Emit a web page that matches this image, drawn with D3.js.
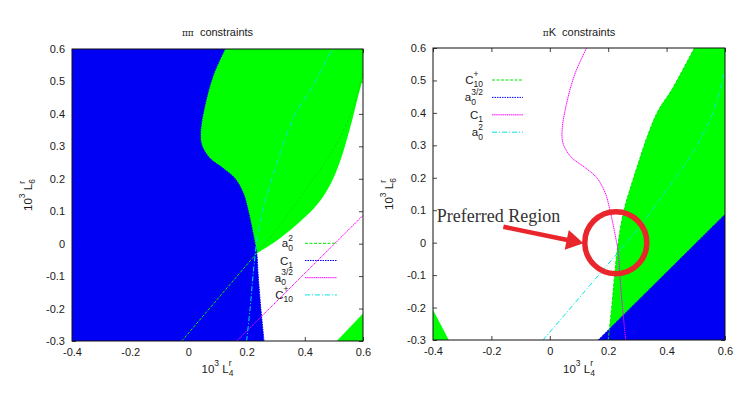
<!DOCTYPE html>
<html>
<head>
<meta charset="utf-8">
<script src="https://cdn.jsdelivr.net/npm/d3@7"></script>
<style>
  body { margin: 0; background: #fff; }
  svg { display: block; font-family: "Liberation Sans", Arial, sans-serif; }
</style>
</head>
<body>
<svg id="chart" width="747" height="398"></svg>
<script>
// =======================
// data (units of 10^3 L_i^r)
// =======================
const xTicks = [-0.4, -0.2, 0, 0.2, 0.4, 0.6];
const yTicks = [-0.3, -0.2, -0.1, 0, 0.1, 0.2, 0.3, 0.4, 0.5, 0.6];

// C1 constraint curve (top -> bottom)
const curveC1 = [[0.126,0.6],[0.086,0.52],[0.057,0.427],[0.042,0.345],[0.046,0.304],[0.074,0.263],
  [0.12,0.232],[0.16,0.201],[0.189,0.155],[0.206,0.1],[0.229,0],[0.235,-0.03],[0.24,-0.1],[0.249,-0.2],[0.26,-0.3]];
// a0^2 curve (bottom -> top)
const curveA02 = [[-0.023,-0.3],[0.234,-0.03],[0.3,0.04],[0.36,0.112],[0.412,0.178],[0.491,0.28],[0.56,0.404],[0.6,0.532]];
// a0^{3/2} line
const curveA032 = [[0.166,-0.3],[0.6,0.087]];
// C10+ curve (bottom -> top)
const curveC10 = [[0.2,-0.3],[0.212,-0.2],[0.222,-0.1],[0.234,0],[0.254,0.1],[0.28,0.18],[0.305,0.25],
  [0.335,0.33],[0.37,0.405],[0.42,0.475],[0.495,0.6]];
// edge of the allowed (green) region in the pi pi plot
const edgeGreenPP = [[0.235,-0.03],[0.315,0.017],[0.384,0.068],[0.441,0.119],[0.487,0.181],[0.521,0.253],
  [0.555,0.355],[0.582,0.45],[0.6,0.51]];
const cornerPP = [[0.51,-0.3],[0.6,-0.215]];
const cornerPK = [[-0.4,-0.207],[-0.346,-0.3]];

const legendPP = ["a02", "C1", "a032", "C10"];
const legendPK = ["C10", "a032", "C1", "a02"];

const curves = { a02: curveA02, C1: curveC1, a032: curveA032, C10: curveC10 };
const labels = {
  a02: [{t:"a", sub:"0", sup:"2"}],
  C1: [{t:"C", sub:"1"}],
  a032: [{t:"a", sub:"0", sup:"3/2"}],
  C10: [{t:"C", sub:"10", sup:"+"}]
};
// gnuplot line types, in legend order
const lineStyles = [
  {color:"#00e600", dash:"3,1.5"},
  {color:"#0000ff", dash:"1.5,1"},
  {color:"#ff00ff", dash:"1.5,0.6"},
  {color:"#00e6e6", dash:"5,2,1,2"}
];

const BLUE = "#0000f4", GREEN = "#00ff00", RED = "#e8262b";

// =======================
// helpers
// =======================
const svg = d3.select("#chart");

function richText(g, parts, x, y, anchor, size) {
  const grp = g.append("g").attr("fill", "#1a1a1a");
  const small = size * 0.74;
  let cx = 0;
  parts.forEach(p => {
    const b = grp.append("text").attr("x", cx).attr("y", 0).attr("font-size", size)
      .style("white-space", "pre").text(p.t);
    cx += b.node().getComputedTextLength();
    let w = 0;
    if (p.sub) {
      const s = grp.append("text").attr("x", cx).attr("y", size * 0.3).attr("font-size", small).text(p.sub);
      w = Math.max(w, s.node().getComputedTextLength());
    }
    if (p.sup) {
      const s = grp.append("text").attr("x", cx).attr("y", -size * 0.58).attr("font-size", small).text(p.sup);
      w = Math.max(w, s.node().getComputedTextLength());
    }
    cx += w;
  });
  const off = anchor === "end" ? -cx : anchor === "middle" ? -cx / 2 : 0;
  grp.attr("transform", `translate(${x + off},${y})`);
  return grp;
}

function drawPanel(opt) {
  const x = d3.scaleLinear([-0.4, 0.6], [opt.left, opt.right]);
  const y = d3.scaleLinear([-0.3, 0.6], [opt.bottom, opt.top]);
  const g = svg.append("g");
  const line = d3.line().x(d => x(d[0])).y(d => y(d[1])).curve(d3.curveCatmullRom);
  const P = (a, b) => `${x(a)},${y(b)}`;

  const clipId = "clip" + opt.id;
  svg.append("clipPath").attr("id", clipId).append("rect")
    .attr("x", opt.left).attr("y", opt.top).attr("width", opt.right - opt.left).attr("height", opt.bottom - opt.top);

  // ticks (all four sides, inward) with labels
  const fmt = d => String(+d.toFixed(1));
  const axes = [
    [d3.axisBottom(x).tickValues(xTicks).tickFormat(fmt), `translate(0,${opt.bottom})`],
    [d3.axisTop(x).tickValues(xTicks).tickFormat(""), `translate(0,${opt.top})`],
    [d3.axisLeft(y).tickValues(yTicks).tickFormat(fmt), `translate(${opt.left},0)`],
    [d3.axisRight(y).tickValues(yTicks).tickFormat(""), `translate(${opt.right},0)`]
  ];
  axes.forEach(([ax, tr]) => {
    const a = g.append("g").attr("transform", tr)
      .call(ax.tickSize(-4).tickPadding(7));
    a.select(".domain").remove();
    a.selectAll("line").attr("stroke", "#444");
    a.selectAll("text").attr("font-size", 11).attr("fill", "#1a1a1a")
      .attr("font-family", "Liberation Sans, Arial, sans-serif");
  });

  // filled regions
  const fills = g.append("g").attr("clip-path", `url(#${clipId})`);
  opt.regions.forEach(r => fills.append("path").attr("d", r.d(line, P)).attr("fill", r.color));

  // constraint curves
  const lines = g.append("g").attr("clip-path", `url(#${clipId})`).attr("fill", "none");
  opt.legend.forEach((k, i) => {
    lines.append("path").attr("d", line(curves[k]))
      .attr("stroke", lineStyles[i].color).attr("stroke-width", 1).attr("stroke-dasharray", lineStyles[i].dash);
  });

  // border
  g.append("rect").attr("x", opt.left).attr("y", opt.top)
    .attr("width", opt.right - opt.left).attr("height", opt.bottom - opt.top)
    .attr("fill", "none").attr("stroke", "#111").attr("stroke-width", 1);

  // legend
  opt.legend.forEach((k, i) => {
    const ly = opt.legY + i * opt.legStep;
    richText(g, labels[k], opt.legText, ly + 4, "end", 11.5);
    g.append("line").attr("x1", opt.legX0).attr("x2", opt.legX1).attr("y1", ly).attr("y2", ly)
      .attr("stroke", lineStyles[i].color).attr("stroke-width", 1).attr("stroke-dasharray", lineStyles[i].dash);
  });

  // titles and axis labels
  const cxm = (opt.left + opt.right) / 2;
  const t = g.append("text").attr("x", cxm).attr("y", 36).attr("text-anchor", "middle")
    .attr("font-size", 11).attr("fill", "#1a1a1a").style("white-space", "pre");
  t.append("tspan").attr("font-size", 9).attr("font-family", "DejaVu Serif, serif").text(opt.title[0]);
  t.append("tspan").text(opt.title[1]);
  richText(g, [{t:"10", sup:"3"}, {t:" L", sub:"4", sup:"r"}], cxm, 373, "middle", 11.5);
  const yl = g.append("g").attr("transform", `translate(${opt.left - 40},${(opt.top + opt.bottom) / 2}) rotate(-90)`);
  richText(yl, [{t:"10", sup:"3"}, {t:" L", sub:"6", sup:"r"}], 0, 0, "middle", 11.5);

  return { x, y, g };
}

// =======================
// pi pi panel
// =======================
drawPanel({
  id: "pp", left: 72, right: 363, top: 49, bottom: 341, title: ["ππ", "  constraints"],
  legend: legendPP, legText: 293, legX0: 305, legX1: 337, legY: 243.3, legStep: 17.2,
  regions: [
    {color: GREEN, d: (line, P) => `M${P(-0.4,0.6)}L${P(-0.4,-0.03)}` + line(edgeGreenPP).replace(/^M/, "L") + `L${P(0.6,0.6)}Z`},
    {color: GREEN, d: (line, P) => `M${P(cornerPP[0][0],cornerPP[0][1])}L${P(cornerPP[1][0],cornerPP[1][1])}L${P(0.6,-0.3)}Z`},
    {color: BLUE, d: (line, P) => line(curveC1) + `L${P(-0.4,-0.3)}L${P(-0.4,0.6)}Z`}
  ]
});

// =======================
// pi K panel
// =======================
const pk = drawPanel({
  id: "pk", left: 433, right: 725, top: 48, bottom: 340, title: ["π", "K  constraints"],
  legend: legendPK, legText: 483, legX0: 492, legX1: 523, legY: 80, legStep: 17.4,
  regions: [
    {color: GREEN, d: (line, P) => line(curveC10) + `L${P(0.6,0.6)}L${P(0.6,-0.3)}Z`},
    {color: GREEN, d: (line, P) => `M${P(cornerPK[0][0],cornerPK[0][1])}L${P(cornerPK[1][0],cornerPK[1][1])}L${P(-0.4,-0.3)}Z`},
    {color: BLUE, d: (line, P) => line(curveA032) + `L${P(0.6,-0.3)}Z`}
  ]
});

// =======================
// annotation: preferred region
// =======================
const prefCenter = [0.226, 0.0];
const arrowFrom = [-0.159, 0.049], arrowTo = [0.115, -0.002];
const prefText = [-0.387, 0.065];

const ag = svg.append("g");
ag.append("circle").attr("cx", pk.x(prefCenter[0])).attr("cy", pk.y(prefCenter[1])).attr("r", 31)
  .attr("fill", "none").attr("stroke", RED).attr("stroke-width", 5.5);

const S = [pk.x(arrowFrom[0]), pk.y(arrowFrom[1])], T = [pk.x(arrowTo[0]), pk.y(arrowTo[1])];
const len = Math.hypot(T[0] - S[0], T[1] - S[1]);
const u = [(T[0] - S[0]) / len, (T[1] - S[1]) / len], n = [-u[1], u[0]];
const B = [T[0] - 17 * u[0], T[1] - 17 * u[1]];
ag.append("line").attr("x1", S[0]).attr("y1", S[1]).attr("x2", B[0] + 2 * u[0]).attr("y2", B[1] + 2 * u[1])
  .attr("stroke", RED).attr("stroke-width", 4.5);
ag.append("path").attr("fill", RED)
  .attr("d", `M${T}L${B[0] + 10 * n[0]},${B[1] + 10 * n[1]}L${B[0] - 10 * n[0]},${B[1] - 10 * n[1]}Z`);

ag.append("text").attr("x", pk.x(prefText[0])).attr("y", pk.y(prefText[1]))
  .attr("font-family", "Liberation Serif, Times New Roman, serif").attr("font-size", 18)
  .attr("fill", "#333").text("Preferred Region");
</script>
</body>
</html>
